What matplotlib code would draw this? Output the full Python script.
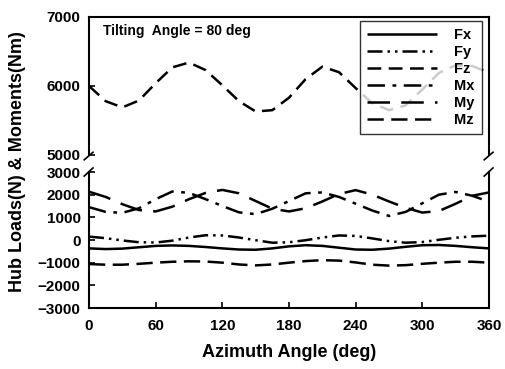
import matplotlib
matplotlib.use("Agg")
import matplotlib.pyplot as plt

plt.rcParams['font.family'] = ['Liberation Sans', 'DejaVu Sans']
plt.rcParams['font.weight'] = 'bold'

# azimuth angle (deg)
azimuth = [0, 15, 30, 45, 60, 75, 90, 105, 120, 135, 150, 165, 180,
           195, 210, 225, 240, 255, 270, 285, 300, 315, 330, 345, 360]

fx = [-370, -400, -380, -320, -260, -240, -260, -310, -370, -420, -430, -370, -280,
      -230, -260, -340, -420, -430, -380, -300, -230, -220, -260, -320, -370]
fy = [150, 80, -20, -100, -110, -30, 110, 210, 200, 110, -10, -120, -100,
      -10, 110, 200, 180, 70, -50, -120, -90, 10, 100, 160, 190]
fz = [6000, 5780, 5690, 5790, 6040, 6270, 6340, 6230, 6010, 5780, 5630, 5650, 5830,
      6100, 6280, 6200, 5970, 5750, 5650, 5720, 5950, 6190, 6300, 6290, 6190]
mx = [1450, 1240, 1200, 1400, 1800, 2140, 2080, 1800, 1500, 1220, 1140, 1380, 1720,
      2060, 2100, 1900, 1600, 1300, 1060, 1240, 1620, 2000, 2120, 1950, 1690]
my = [2130, 1900, 1580, 1320, 1260, 1470, 1800, 2080, 2210, 2060, 1720, 1380, 1260,
      1400, 1700, 2030, 2200, 2000, 1700, 1420, 1210, 1280, 1600, 1950, 2100]
mz = [-1060, -1090, -1090, -1050, -1000, -960, -940, -950, -1000, -1080, -1120, -1080, -1000,
      -930, -890, -910, -990, -1090, -1130, -1110, -1050, -1000, -960, -960, -1000]

styles = {
    'Fx': (0, ()),
    'Fy': (0, (6, 2, 1, 2, 1, 2)),
    'Fz': (0, (5.5, 3)),
    'Mx': (0, (7, 3, 1.5, 3)),
    'My': (0, (9, 4.5)),
    'Mz': (0, (6.5, 3, 6.5, 3)),
}

fig = plt.figure(figsize=(5.05, 3.69), dpi=100)
W, H = 505.0, 369.0
x0, x1 = 89 / W, 489 / W
ax_top = fig.add_axes([x0, 1 - 155 / H, x1 - x0, 138 / H])
ax_bot = fig.add_axes([x0, 1 - 308 / H, x1 - x0, 136 / H])

lw = 1.8
handles = {}
handles['Fz'], = ax_top.plot(azimuth, fz, color='k', lw=lw, linestyle=styles['Fz'], label='Fz')
for name, vals in [('Fx', fx), ('Fy', fy), ('Mx', mx), ('My', my), ('Mz', mz)]:
    handles[name], = ax_bot.plot(azimuth, vals, color='k', lw=lw,
                                 linestyle=styles[name], label=name)

for ax in (ax_top, ax_bot):
    ax.set_xlim(0, 360)
    for s in ax.spines.values():
        s.set_linewidth(1.5)
    ax.tick_params(direction='in', length=4, width=1.2, labelsize=11)
    ax.tick_params(axis='y', pad=6)

ax_top.set_ylim(5000, 7000)
ax_top.set_yticks([5000, 6000, 7000])
ax_top.spines['bottom'].set_visible(False)
ax_top.tick_params(axis='x', bottom=False, labelbottom=False)

ax_bot.set_ylim(-3000, 3000)
ax_bot.set_yticks(range(-3000, 3001, 1000))
ax_bot.set_xticks(range(0, 361, 60))
ax_bot.spines['top'].set_visible(False)
ax_bot.tick_params(axis='x', pad=8)

# break marks
d = dict(color='k', lw=1.2, clip_on=False)
for xx in (0, 1):
    ax_top.plot([xx - 0.012, xx + 0.01], [-0.035, 0.02], transform=ax_top.transAxes, **d)
    ax_bot.plot([xx - 0.012, xx + 0.01], [0.97, 1.03], transform=ax_bot.transAxes, **d)

ax_top.text(0.035, 0.9, 'Tilting  Angle = 80 deg', transform=ax_top.transAxes,
            fontsize=10, fontweight='bold', va='center')

order = ['Fx', 'Fy', 'Fz', 'Mx', 'My', 'Mz']
leg = ax_top.legend([handles[n] for n in order], order, loc='upper right',
                    bbox_to_anchor=(482 / W, 1 - 21 / H), bbox_transform=fig.transFigure,
                    fontsize=10.5, frameon=True, fancybox=False, handlelength=4.8,
                    handletextpad=1.2, labelspacing=0.2, borderpad=0.5, borderaxespad=0)
leg.get_frame().set_edgecolor('k')
leg.get_frame().set_linewidth(1.0)

ax_bot.set_xlabel('Azimuth Angle (deg)', fontsize=13, fontweight='bold', labelpad=8)
fig.text(0.035, 1 - 162 / H, 'Hub Loads(N) & Moments(Nm)', rotation=90,
         fontsize=13, fontweight='bold', ha='center', va='center')

fig.savefig('out.png', dpi=100)
